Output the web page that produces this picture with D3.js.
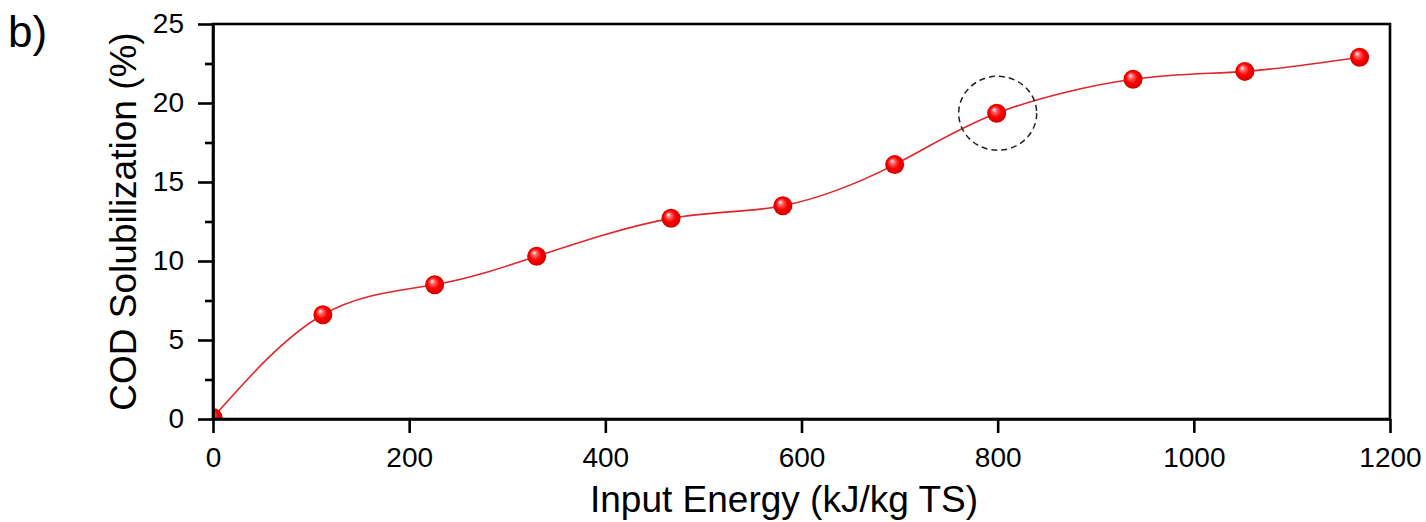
<!DOCTYPE html>
<html>
<head>
<meta charset="utf-8">
<script src="https://cdn.jsdelivr.net/npm/d3@7"></script>
<style>
  body { margin: 0; background: white; }
  svg { display: block; }
</style>
</head>
<body>
<svg id="chart"></svg>
<script>
// data
let energy = [0, 112, 226, 330, 467, 581, 695, 799, 938, 1052, 1169];
let cod = [0.1, 6.6, 8.5, 10.3, 12.7, 13.5, 16.1, 19.35, 21.5, 22.0, 22.9];
let xTicks = [0, 200, 400, 600, 800, 1000, 1200];
let yTicks = [0, 5, 10, 15, 20, 25];
let yMinor = [2.5, 7.5, 12.5, 17.5, 22.5];
let highlightIndex = 7;

let width = 1426, height = 522;
let margin = {left: 213, right: 36, top: 24, bottom: 103};
let font_family = "Arial, 'Liberation Sans', sans-serif";

let svg = d3.select("#chart")
    .attr("width", width)
    .attr("height", height);

let x = d3.scaleLinear().domain([0, 1200]).range([margin.left, width - margin.right]);
let y = d3.scaleLinear().domain([0, 25]).range([height - margin.bottom, margin.top]);

let defs = svg.append("defs");
let grad = defs.append("radialGradient")
    .attr("id", "ball")
    .attr("cx", "50%").attr("cy", "50%").attr("r", "55%")
    .attr("fx", "35%").attr("fy", "30%");
grad.append("stop").attr("offset", "0%").attr("stop-color", "#ffffff");
grad.append("stop").attr("offset", "22%").attr("stop-color", "#ff6a6a");
grad.append("stop").attr("offset", "55%").attr("stop-color", "#ff0000");
grad.append("stop").attr("offset", "100%").attr("stop-color", "#c80000");

defs.append("clipPath").attr("id", "plotclip")
  .append("rect")
    .attr("x", x(0)).attr("y", y(25))
    .attr("width", x(1200) - x(0)).attr("height", y(0) - y(25));

let pts = energy.map((e, i) => [e, cod[i]]);

// fitted curve
let line = d3.line()
    .x(d => x(d[0]))
    .y(d => y(d[1]))
    .curve(d3.curveNatural);

let plot = svg.append("g").attr("clip-path", "url(#plotclip)");

plot.append("path")
    .datum(pts)
    .attr("d", line)
    .attr("fill", "none")
    .attr("stroke", "#e0262a")
    .attr("stroke-width", 1.6);

plot.selectAll("circle.pt")
    .data(pts)
    .join("circle")
    .attr("class", "pt")
    .attr("cx", d => x(d[0]))
    .attr("cy", d => y(d[1]))
    .attr("r", 9.5)
    .attr("fill", "url(#ball)");

// dashed circle round the chosen point
svg.append("ellipse")
    .attr("cx", x(pts[highlightIndex][0]) + 1)
    .attr("cy", y(pts[highlightIndex][1]))
    .attr("rx", 39)
    .attr("ry", 37)
    .attr("fill", "none")
    .attr("stroke", "#222")
    .attr("stroke-width", 1.5)
    .attr("stroke-dasharray", "6,4");

// axes
let xAxis = d3.axisBottom(x).tickValues(xTicks).tickSize(14).tickPadding(14)
    .tickSizeOuter(0).tickFormat(d3.format("d"));
let gx = svg.append("g")
    .attr("transform", "translate(0," + y(0) + ")")
    .call(xAxis);

let yAxis = d3.axisLeft(y).tickValues(yTicks).tickSize(15).tickPadding(14)
    .tickSizeOuter(0).tickFormat(d3.format("d"));
let gy = svg.append("g")
    .attr("transform", "translate(" + x(0) + ",0)")
    .call(yAxis);

let gyMinor = svg.append("g")
    .attr("transform", "translate(" + x(0) + ",0)")
    .call(d3.axisLeft(y).tickValues(yMinor).tickSize(8).tickFormat(""));
gyMinor.select(".domain").remove();

[gx, gy, gyMinor].forEach(g => {
    g.attr("font-family", font_family).attr("font-size", 28);
    g.selectAll(".domain").attr("stroke", "black").attr("stroke-width", 2.6);
    g.selectAll(".tick line").attr("stroke", "black").attr("stroke-width", 2.6);
    g.selectAll(".tick text").attr("fill", "black");
});

// frame top and right
svg.append("rect")
    .attr("x", x(0)).attr("y", y(25))
    .attr("width", x(1200) - x(0)).attr("height", y(0) - y(25))
    .attr("fill", "none")
    .attr("stroke", "black")
    .attr("stroke-width", 2.6);

// titles
svg.append("text")
    .attr("x", 784)
    .attr("y", 512)
    .attr("text-anchor", "middle")
    .attr("font-family", font_family)
    .attr("font-size", "37px")
    .text("Input Energy (kJ/kg TS)");

svg.append("text")
    .attr("transform", "translate(136," + (y(0) + y(25)) / 2 + ") rotate(-90)")
    .attr("text-anchor", "middle")
    .attr("font-family", font_family)
    .attr("font-size", "37px")
    .text("COD Solubilization (%)");

svg.append("text")
    .attr("x", 8)
    .attr("y", 47)
    .attr("font-family", font_family)
    .attr("font-size", "44px")
    .text("b)");
</script>
</body>
</html>
